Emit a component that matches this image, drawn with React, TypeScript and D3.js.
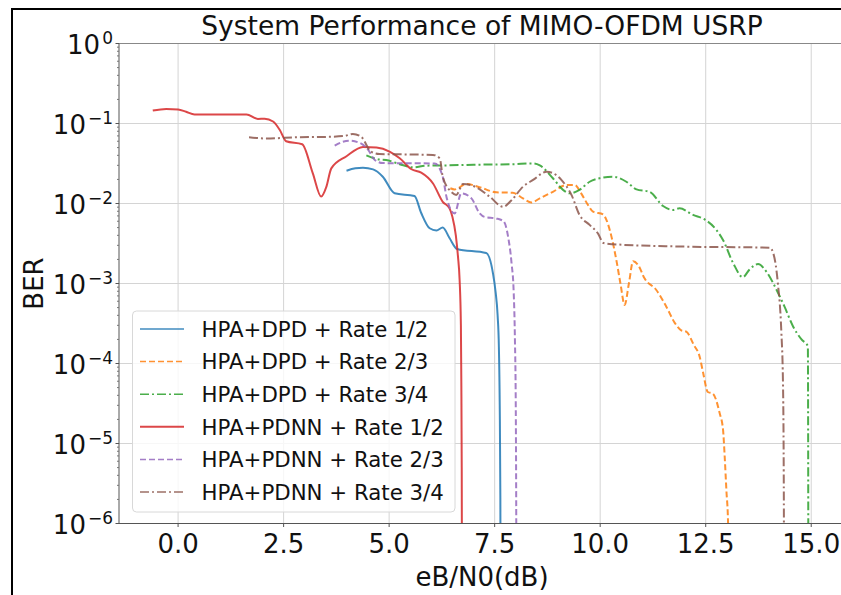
import * as d3 from 'd3';

// tick values
const xTicks = [0, 2.5, 5, 7.5, 10, 12.5, 15];
const yExponents = [0, -1, -2, -3, -4, -5, -6];

// BER curves, [Eb/N0 (dB), BER]
const dpdRate12: [number, number][] = [
  [3.99, 0.0257], [4.2, 0.0275], [4.38, 0.028], [4.62, 0.0267], [4.85, 0.0216], [5.13, 0.0134],
  [5.6, 0.0124], [5.76, 0.0076], [5.96, 0.0049], [6.12, 0.0046], [6.27, 0.005], [6.43, 0.0037],
  [6.61, 0.0027], [7.3, 0.0024], [7.46, 0.00134], [7.52, 8e-4], [7.57, 4e-4], [7.6, 1.6e-4],
  [7.62, 3e-5], [7.635, 2e-6], [7.645, 1e-8],
];

const dpdRate23: [number, number][] = [
  [6.45, 0.0155], [6.55, 0.015], [6.83, 0.0175], [7.14, 0.016], [7.54, 0.0138], [7.93, 0.0136],
  [8.17, 0.0116], [8.37, 0.0103], [8.57, 0.0116], [8.88, 0.014], [9.2, 0.017], [9.4, 0.017],
  [9.55, 0.0134], [9.71, 0.0096], [9.83, 0.0079], [10.07, 0.0073], [10.15, 0.0062], [10.27, 0.0038],
  [10.38, 0.002], [10.48, 0.001], [10.58, 5.4e-4], [10.68, 1.0e-3], [10.78, 0.0019], [10.9, 0.0017],
  [11.05, 0.00116], [11.33, 8.3e-4], [11.57, 5.1e-4], [11.77, 3.2e-4], [11.92, 2.6e-4], [12.04, 2.5e-4],
  [12.22, 1.7e-4], [12.36, 1.2e-4], [12.44, 7.6e-5], [12.55, 4.4e-5], [12.67, 4.2e-5], [12.83, 2.4e-5],
  [12.91, 1.5e-5], [12.95, 6.8e-6], [12.99, 2.6e-6], [13.03, 1e-6], [13.05, 1e-8],
];

const dpdRate34: [number, number][] = [
  [4.46, 0.04], [4.77, 0.0355], [4.93, 0.035], [5.25, 0.031], [5.56, 0.0283], [5.88, 0.0297],
  [6.43, 0.03], [7.0, 0.0305], [7.93, 0.031], [8.41, 0.0317], [8.57, 0.03], [8.88, 0.0207],
  [9.12, 0.0148], [9.28, 0.0134], [9.51, 0.0148], [9.75, 0.0187], [9.99, 0.0207], [10.3, 0.0216],
  [10.62, 0.0187], [10.86, 0.015], [11.17, 0.014], [11.49, 0.0093], [11.72, 0.0083], [11.88, 0.0087],
  [12.2, 0.0072], [12.48, 0.0063], [12.75, 0.0047], [12.91, 0.0035], [13.15, 0.0018], [13.38, 0.0012],
  [13.54, 0.0015], [13.74, 0.00175], [13.94, 0.0014], [14.18, 8.3e-4], [14.37, 5.1e-4], [14.57, 2.9e-4],
  [14.77, 2.0e-4], [14.92, 1.65e-4], [14.935, 1e-8],
];

const pdnnRate12: [number, number][] = [
  [-0.6, 0.145], [-0.28, 0.152], [0.0, 0.15], [0.19, 0.14], [0.39, 0.13], [1.0, 0.13], [1.62, 0.13],
  [1.89, 0.114], [2.05, 0.115], [2.25, 0.106], [2.41, 0.083], [2.56, 0.06], [2.94, 0.055], [3.19, 0.024],
  [3.39, 0.0122], [3.51, 0.016], [3.63, 0.0275], [3.99, 0.039], [4.38, 0.051], [4.7, 0.05], [5.01, 0.0445],
  [5.25, 0.0367], [5.53, 0.0268], [5.76, 0.0243], [6.04, 0.0178], [6.27, 0.0105], [6.43, 0.0087],
  [6.5, 0.0068], [6.58, 0.004], [6.63, 0.0022], [6.67, 0.0011], [6.7, 3e-4], [6.71, 6e-5], [6.72, 5e-6],
  [6.73, 1e-8],
];

const pdnnRate23: [number, number][] = [
  [3.71, 0.053], [3.9, 0.059], [4.06, 0.061], [4.34, 0.056], [4.5, 0.047], [4.66, 0.035], [4.85, 0.032],
  [5.5, 0.0318], [6.08, 0.0317], [6.27, 0.0216], [6.36, 0.012], [6.55, 0.0075], [6.71, 0.0134],
  [6.95, 0.0116], [7.14, 0.0076], [7.26, 0.0068], [7.54, 0.0065], [7.71, 0.006], [7.82, 0.0038],
  [7.9, 0.0018], [7.95, 8e-4], [7.98, 2e-4], [8.0, 3e-5], [8.01, 2e-6], [8.02, 1e-8],
];

const pdnnRate34: [number, number][] = [
  [1.68, 0.0675], [2.09, 0.065], [2.88, 0.0675], [3.5, 0.068], [3.95, 0.07], [4.14, 0.074], [4.34, 0.068],
  [4.57, 0.0445], [4.77, 0.0415], [5.5, 0.041], [6.04, 0.0405], [6.2, 0.0367], [6.27, 0.0216],
  [6.47, 0.014], [6.59, 0.0128], [6.75, 0.0175], [7.07, 0.0159], [7.38, 0.0122], [7.7, 0.0091],
  [7.9, 0.011], [8.17, 0.0162], [8.41, 0.0197], [8.73, 0.025], [8.88, 0.024], [9.08, 0.0197],
  [9.32, 0.0128], [9.51, 0.0072], [9.75, 0.0054], [9.95, 0.0042], [10.08, 0.0032], [10.3, 0.0031],
  [11.88, 0.0029], [14.02, 0.0028], [14.1, 0.0024], [14.21, 0.001], [14.29, 2.6e-4], [14.33, 6e-5],
  [14.35, 3e-6], [14.36, 1e-8],
];

const seriesNames = [
  'HPA+DPD + Rate 1/2',
  'HPA+DPD + Rate 2/3',
  'HPA+DPD + Rate 3/4',
  'HPA+PDNN + Rate 1/2',
  'HPA+PDNN + Rate 2/3',
  'HPA+PDNN + Rate 3/4',
];
const seriesData = [dpdRate12, dpdRate23, dpdRate34, pdnnRate12, pdnnRate23, pdnnRate34];
const seriesColors = ['#1f77b4', '#ff7f0e', '#2ca02c', '#d62728', '#9467bd', '#8c564b'];
const seriesDash = ['none', '6,3', '9,3,2,3', 'none', '6,3', '9,3,2,3'];

const FONT = '"DejaVu Sans", sans-serif';

export default function App() {
  const width = 841;
  const height = 595;
  const plot = { left: 119, right: 845, top: 43.5, bottom: 523.5 };

  const x = d3.scaleLinear().domain([-1.4, 15.8]).range([plot.left, plot.right]);
  const y = d3.scaleLog().domain([1e-6, 1]).range([plot.bottom, plot.top]);

  const line = d3
    .line<[number, number]>()
    .x((d) => x(d[0]))
    .y((d) => y(d[1]))
    .curve(d3.curveMonotoneX);

  const minorTicks: number[] = [];
  for (let e = -6; e < 0; e++) {
    for (let k = 2; k <= 9; k++) minorTicks.push(k * Math.pow(10, e));
  }

  const legend = { x: 132.5, y: 311, w: 322.5, h: 201, row0: 329, rowStep: 32.6 };

  return (
    <svg
      width={width}
      height={height}
      style={{ position: 'absolute', left: 0, top: 0, background: '#fff' }}
      fontFamily={FONT}
    >
      <defs>
        <clipPath id="plot-clip">
          <rect x={plot.left} y={plot.top} width={plot.right - plot.left} height={plot.bottom - plot.top} />
        </clipPath>
      </defs>

      {/* screenshot frame */}
      <line x1={11} x2={841} y1={9} y2={9} stroke="#000" strokeWidth={2} />
      <line x1={12} x2={12} y1={8} y2={595} stroke="#000" strokeWidth={2} />

      {/* grid */}
      <g stroke="#d4d4d4" strokeWidth={1}>
        {xTicks.map((t) => (
          <line key={`gx${t}`} x1={x(t)} x2={x(t)} y1={plot.top} y2={plot.bottom} />
        ))}
        {yExponents.map((e) => (
          <line key={`gy${e}`} x1={plot.left} x2={plot.right} y1={y(Math.pow(10, e))} y2={y(Math.pow(10, e))} />
        ))}
      </g>

      {/* curves */}
      <g clipPath="url(#plot-clip)" fill="none">
        {seriesData.map((d, i) => (
          <path
            key={seriesNames[i]}
            d={line(d) ?? ''}
            stroke={seriesColors[i]}
            strokeWidth={2}
            strokeOpacity={0.85}
            strokeDasharray={seriesDash[i]}
          />
        ))}
      </g>

      {/* spines */}
      <g stroke="#555" strokeWidth={1} fill="none">
        <line x1={plot.left} x2={plot.right} y1={plot.top} y2={plot.top} stroke="#888" />
        <line x1={plot.left} x2={plot.left} y1={plot.top} y2={plot.bottom} />
        <line x1={plot.left} x2={plot.right} y1={plot.bottom} y2={plot.bottom} />
      </g>

      {/* x axis ticks */}
      {xTicks.map((t) => (
        <g key={`xt${t}`}>
          <line x1={x(t)} x2={x(t)} y1={plot.bottom} y2={plot.bottom + 3.5} stroke="#555" />
          <text x={x(t)} y={553} textAnchor="middle" fontSize={26} fill="#111">
            {t.toFixed(1)}
          </text>
        </g>
      ))}

      {/* y axis ticks */}
      {minorTicks.map((v) => (
        <line key={`ym${v}`} x1={plot.left - 2} x2={plot.left} y1={y(v)} y2={y(v)} stroke="#777" />
      ))}
      {yExponents.map((e) => {
        const py = y(Math.pow(10, e));
        return (
          <g key={`yt${e}`}>
            <line x1={plot.left - 3.5} x2={plot.left} y1={py} y2={py} stroke="#555" />
            <text x={113} y={py + 10} textAnchor="end" fontSize={26} fill="#111">
              10
              <tspan dx={2} dy={-10} fontSize={17}>
                {e === 0 ? '0' : `\u2212${-e}`}
              </tspan>
            </text>
          </g>
        );
      })}

      {/* labels */}
      <text x={(plot.left + plot.right) / 2} y={35} textAnchor="middle" fontSize={26.5} fill="#111">
        System Performance of MIMO-OFDM USRP
      </text>
      <text x={(plot.left + plot.right) / 2} y={586} textAnchor="middle" fontSize={26} fill="#111">
        eB/N0(dB)
      </text>
      <text
        transform={`translate(43,${(plot.top + plot.bottom) / 2}) rotate(-90)`}
        textAnchor="middle"
        fontSize={26}
        fill="#111"
      >
        BER
      </text>

      {/* legend */}
      <g>
        <rect
          x={legend.x}
          y={legend.y}
          width={legend.w}
          height={legend.h}
          rx={4}
          fill="#fff"
          fillOpacity={0.8}
          stroke="#d8d8d8"
        />
        {seriesNames.map((name, i) => {
          const cy = legend.row0 + i * legend.rowStep;
          return (
            <g key={`lg${name}`}>
              <line
                x1={140}
                x2={184}
                y1={cy}
                y2={cy}
                stroke={seriesColors[i]}
                strokeWidth={i === 3 ? 2 : 1.5}
                strokeOpacity={0.85}
                strokeDasharray={seriesDash[i]}
              />
              <text x={201.5} y={cy + 7.8} fontSize={21.3} fill="#111">
                {name}
              </text>
            </g>
          );
        })}
      </g>
    </svg>
  );
}
